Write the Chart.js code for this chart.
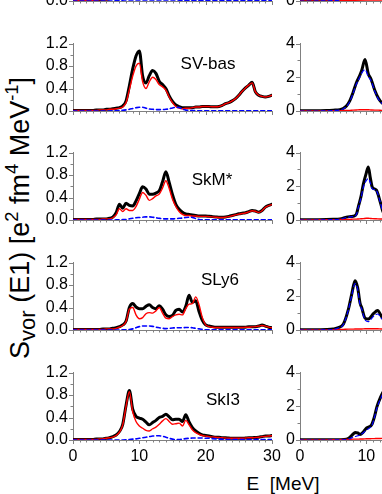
<!DOCTYPE html>
<html><head><meta charset="utf-8">
<script src="https://cdn.jsdelivr.net/npm/chart.js@4.4.1/dist/chart.umd.min.js"></script>
<style>
html,body{margin:0;padding:0;width:382px;height:494px;overflow:hidden;background:#fff;}
#wrap{position:relative;width:382px;height:494px;overflow:hidden;font-family:"Liberation Sans",Arial,sans-serif;color:#000;}
#wrap canvas{position:absolute;}
.lbl{position:absolute;font-size:17px;line-height:17px;transform:translate(-50%,-50%);white-space:nowrap;}
#ytitle{position:absolute;left:20px;top:218px;font-size:27px;line-height:27px;white-space:nowrap;transform:translate(-50%,-50%) rotate(-90deg);}
#ytitle sub{font-size:82%;vertical-align:-0.3em;line-height:0;}
#ytitle sup{font-size:68%;vertical-align:0.55em;line-height:0;}
#xtitle{position:absolute;left:283px;top:483px;font-size:19px;line-height:19px;white-space:pre;transform:translate(-50%,-50%);}
</style></head>
<body>
<div id="wrap">
  <div id="ytitle">S<sub>vor</sub> (E1) [e<sup>2</sup> fm<sup>4</sup> MeV<sup>-1</sup>]</div>
  <div id="xtitle">E  [MeV]</div>
</div>
<script>
// ---------------- data ----------------
const energies = [0,0.5,1,1.5,2,2.5,3,3.5,4,4.5,
  5,5.5,6,6.5,7,7.5,8,8.5,9,9.5,
  10,10.5,11,11.5,12,12.5,13,13.5,14,14.5,
  15,15.5,16,16.5,17,17.5,18,18.5,19,19.5,
  20,20.5,21,21.5,22,22.5,23,23.5,24,24.5,
  25,25.5,26,26.5,27,27.5,28,28.5,29,29.5,
  30];

const models = ['', 'SV-bas', 'SkM*', 'SLy6', 'SkI3'];

const leftXTicks = [0, 10, 20, 30];
const leftYTicks = [0, 0.4, 0.8, 1.2];
const leftYLabels = ['0.0', '0.4', '0.8', '1.2'];
const rightYTicks = [0, 2, 4];
const rightYLabels = ['0', '2', '4'];

// left column: total (black), red component, blue dashed component
const topTotal = [0.01,0.01,0.01,0.01,0.01,0.01,0.02,0.02,0.02,0.03,
  0.03,0.04,0.06,0.12,0.30,0.60,0.90,1.00,0.80,0.60,
  0.50,0.50,0.50,0.45,0.40,0.40,0.35,0.30,0.25,0.20,
  0.18,0.15,0.12,0.10,0.10,0.10,0.10,0.10,0.10,0.10,
  0.10,0.10,0.10,0.10,0.10,0.10,0.10,0.10,0.10,0.10,
  0.10,0.10,0.10,0.10,0.10,0.10,0.10,0.10,0.10,0.10,
  0.10];
const topRed = [0.01,0.01,0.01,0.01,0.01,0.01,0.01,0.01,0.02,0.02,
  0.02,0.03,0.05,0.10,0.25,0.50,0.75,0.85,0.70,0.50,
  0.42,0.42,0.42,0.38,0.34,0.34,0.30,0.26,0.22,0.18,
  0.16,0.13,0.10,0.09,0.09,0.09,0.09,0.09,0.09,0.09,
  0.09,0.09,0.09,0.09,0.09,0.09,0.09,0.09,0.09,0.09,
  0.09,0.09,0.09,0.09,0.09,0.09,0.09,0.09,0.09,0.09,
  0.09];
const topBlue = [0,0,0,0,0,0,0,0,0,0,
  0,0,0,0.005,0.01,0.015,0.02,0.02,0.02,0.02,
  0.02,0.02,0.02,0.02,0.02,0.02,0.02,0.02,0.02,0.02,
  0.02,0.02,0.015,0.01,0.01,0.01,0.01,0.01,0.01,0.01,
  0.005,0.005,0.005,0.005,0.005,0.005,0.005,0.005,0.005,0.005,
  0.005,0.005,0.005,0.005,0.005,0.005,0.005,0.005,0.005,0.005,
  0.005];

const svbasTotal = [0.01,0.01,0.01,0.01,0.01,0.01,0.01,0.02,0.02,0.02,
  0.03,0.03,0.04,0.05,0.06,0.09,0.18,0.45,0.75,0.98,
  1.07,0.62,0.50,0.63,0.72,0.67,0.53,0.47,0.40,0.27,
  0.17,0.11,0.08,0.06,0.06,0.06,0.06,0.07,0.07,0.08,
  0.08,0.08,0.075,0.075,0.08,0.10,0.13,0.15,0.18,0.22,
  0.28,0.35,0.41,0.46,0.51,0.34,0.28,0.26,0.25,0.26,
  0.28];
const svbasRed = [0.01,0.01,0.01,0.01,0.01,0.01,0.01,0.01,0.02,0.02,
  0.02,0.03,0.03,0.04,0.05,0.07,0.15,0.38,0.62,0.80,
  0.85,0.52,0.40,0.52,0.60,0.56,0.47,0.43,0.37,0.25,
  0.15,0.08,0.05,0.04,0.05,0.05,0.06,0.07,0.07,0.08,
  0.08,0.08,0.075,0.075,0.08,0.10,0.13,0.15,0.18,0.22,
  0.28,0.35,0.41,0.46,0.50,0.34,0.28,0.26,0.25,0.26,
  0.28];
const svbasBlue = [0,0,0,0,0,0,0,0,0,0,
  0,0,0.003,0.005,0.008,0.012,0.02,0.03,0.045,0.058,
  0.066,0.066,0.05,0.035,0.03,0.025,0.025,0.025,0.03,0.04,
  0.055,0.065,0.062,0.035,0.015,0.01,0.008,0.006,0.005,0.004,
  0.003,0.003,0.003,0.003,0.003,0.003,0.003,0.003,0.003,0.003,
  0.002,0.002,0.002,0.002,0.002,0.002,0.002,0.002,0.002,0.002,
  0.002];

const skmTotal = [0.01,0.01,0.01,0.01,0.01,0.01,0.01,0.02,0.02,0.02,
  0.02,0.03,0.05,0.13,0.28,0.21,0.30,0.26,0.25,0.34,
  0.47,0.59,0.55,0.46,0.46,0.48,0.52,0.68,0.86,0.67,
  0.45,0.28,0.19,0.14,0.11,0.10,0.09,0.08,0.07,0.07,
  0.07,0.065,0.06,0.055,0.05,0.05,0.055,0.065,0.08,0.095,
  0.11,0.12,0.13,0.15,0.17,0.16,0.14,0.17,0.23,0.26,
  0.28];
const skmRed = [0.01,0.01,0.01,0.01,0.01,0.01,0.01,0.01,0.01,0.02,
  0.02,0.02,0.04,0.09,0.20,0.15,0.20,0.17,0.17,0.24,
  0.37,0.49,0.44,0.35,0.38,0.43,0.46,0.57,0.70,0.56,
  0.37,0.24,0.15,0.10,0.08,0.08,0.07,0.07,0.065,0.065,
  0.065,0.06,0.055,0.05,0.045,0.045,0.05,0.06,0.075,0.09,
  0.105,0.115,0.125,0.145,0.165,0.155,0.135,0.165,0.225,0.255,
  0.275];
const skmBlue = [0,0,0,0,0,0,0,0,0,0,
  0,0,0,0.002,0.004,0.006,0.01,0.02,0.03,0.04,
  0.045,0.05,0.055,0.055,0.05,0.04,0.03,0.022,0.02,0.02,
  0.02,0.025,0.03,0.035,0.045,0.05,0.045,0.025,0.01,0.005,
  0.003,0.003,0.003,0.003,0.003,0.003,0.003,0.003,0.003,0.003,
  0.002,0.002,0.002,0.002,0.002,0.002,0.002,0.002,0.002,0.002,
  0.002];

const sly6Total = [0.01,0.01,0.01,0.01,0.01,0.01,0.01,0.01,0.01,0.02,
  0.02,0.02,0.03,0.04,0.06,0.09,0.16,0.40,0.47,0.41,
  0.38,0.38,0.42,0.45,0.40,0.38,0.43,0.37,0.27,0.24,
  0.26,0.35,0.37,0.32,0.42,0.62,0.49,0.52,0.33,0.17,
  0.09,0.07,0.06,0.05,0.05,0.05,0.05,0.05,0.05,0.05,
  0.05,0.05,0.05,0.06,0.06,0.06,0.07,0.09,0.07,0.05,
  0.04];
const sly6Red = [0.01,0.01,0.01,0.01,0.01,0.01,0.01,0.01,0.01,0.01,
  0.02,0.02,0.02,0.03,0.05,0.08,0.15,0.37,0.40,0.27,
  0.20,0.22,0.29,0.31,0.30,0.34,0.40,0.30,0.21,0.20,
  0.24,0.27,0.28,0.27,0.38,0.46,0.47,0.59,0.45,0.22,
  0.09,0.06,0.05,0.045,0.045,0.045,0.045,0.045,0.045,0.045,
  0.045,0.045,0.05,0.05,0.055,0.06,0.07,0.08,0.07,0.05,
  0.04];
const sly6Blue = [0,0,0,0,0,0,0,0,0,0,
  0,0,0,0,0,0.002,0.005,0.01,0.02,0.04,
  0.06,0.07,0.07,0.07,0.065,0.05,0.04,0.03,0.025,0.03,
  0.035,0.04,0.04,0.04,0.045,0.045,0.04,0.03,0.02,0.01,
  0.005,0.003,0.003,0.003,0.003,0.003,0.003,0.003,0.003,0.003,
  0.002,0.002,0.002,0.002,0.002,0.002,0.002,0.002,0.002,0.002,
  0.002];

const ski3Total = [0.01,0.01,0.01,0.01,0.01,0.01,0.01,0.02,0.02,0.02,
  0.03,0.04,0.06,0.09,0.15,0.28,0.62,0.88,0.55,0.42,
  0.39,0.37,0.32,0.27,0.31,0.35,0.40,0.42,0.46,0.41,
  0.36,0.37,0.37,0.33,0.45,0.32,0.22,0.16,0.12,0.09,
  0.08,0.07,0.06,0.05,0.05,0.04,0.04,0.035,0.03,0.03,
  0.03,0.03,0.035,0.04,0.04,0.045,0.05,0.06,0.07,0.07,
  0.08];
const ski3Red = [0.01,0.01,0.01,0.01,0.01,0.01,0.01,0.01,0.02,0.02,
  0.03,0.04,0.05,0.08,0.14,0.27,0.60,0.86,0.50,0.33,
  0.25,0.21,0.17,0.16,0.20,0.23,0.28,0.34,0.38,0.33,
  0.28,0.29,0.30,0.25,0.35,0.27,0.18,0.13,0.10,0.08,
  0.07,0.06,0.055,0.05,0.045,0.04,0.035,0.03,0.03,0.03,
  0.03,0.03,0.035,0.04,0.04,0.045,0.05,0.06,0.065,0.07,
  0.075];
const ski3Blue = [0,0,0,0,0,0,0,0,0,0,
  0,0,0,0,0,0,0.003,0.008,0.015,0.02,
  0.03,0.04,0.05,0.06,0.07,0.075,0.075,0.065,0.05,0.03,
  0.015,0.008,0.008,0.015,0.025,0.03,0.035,0.035,0.035,0.035,
  0.03,0.03,0.025,0.02,0.015,0.012,0.01,0.01,0.01,0.01,
  0.01,0.01,0.01,0.01,0.01,0.01,0.01,0.01,0.01,0.01,
  0.01];

// right column (read points, energies in MeV)
const rTopE     = [0,2,4,5,6,7,8,10,12,14];
const rTopTotal = [0.02,0.02,0.03,0.04,0.08,0.4,1.2,2.5,1.5,0.8];
const rTopBlue  = [0,0,0.01,0.02,0.06,0.35,1.1,2.3,1.4,0.7];
const rTopRed   = [0.01,0.01,0.01,0.02,0.02,0.03,0.04,0.05,0.05,0.05];

const rSvbasE     = [0,2,4,5,6,6.5,7,7.5,8,8.5,9,9.3,9.8,10.3,10.7,11.3,11.8,12.3,13,14];
const rSvbasTotal = [0.02,0.02,0.03,0.05,0.08,0.15,0.3,0.6,1.1,1.68,2.1,2.4,3.05,2.2,1.9,1.2,0.77,0.5,0.3,0.2];
const rSvbasBlue  = [0,0,0.01,0.03,0.06,0.12,0.27,0.55,1.05,1.6,2.0,2.25,2.45,2.05,1.8,1.15,0.72,0.47,0.28,0.18];
const rSvbasRed   = [0.01,0.01,0.01,0.02,0.02,0.03,0.03,0.04,0.05,0.06,0.07,0.07,0.07,0.07,0.06,0.05,0.05,0.04,0.04,0.04];

const rSkmE     = [0,2,4,5,6,6.5,7,7.5,8,8.5,8.8,9.2,9.55,10,10.3,10.6,10.9,11.5,12.1,12.5,13,14];
const rSkmTotal = [0.02,0.02,0.03,0.04,0.06,0.1,0.17,0.2,0.22,0.35,0.8,1.4,2.13,2.8,3.15,2.5,1.95,1.78,1.07,0.5,0.3,0.2];
const rSkmBlue  = [0,0,0.01,0.02,0.05,0.09,0.15,0.18,0.2,0.32,0.75,1.3,1.95,2.35,2.45,2.2,1.85,1.75,1.05,0.48,0.28,0.18];
const rSkmRed   = [0.01,0.01,0.02,0.02,0.03,0.03,0.04,0.04,0.05,0.05,0.06,0.07,0.08,0.1,0.1,0.09,0.08,0.07,0.06,0.06,0.05,0.05];

const rSly6E     = [0,2,4,5,5.8,6.55,7.3,7.8,8.3,8.7,9.05,9.3,9.8,10.3,11.1,11.7,12.3,13,14];
const rSly6Total = [0.02,0.02,0.03,0.06,0.14,0.36,1.24,2.13,2.93,2.5,1.6,1.33,0.71,0.65,0.98,1.16,0.8,0.5,0.3];
const rSly6Blue  = [0,0,0.01,0.04,0.12,0.33,1.2,2.05,2.75,2.4,1.5,1.25,0.6,0.5,0.82,0.95,0.68,0.42,0.25];
const rSly6Red   = [0.01,0.01,0.01,0.02,0.03,0.04,0.05,0.05,0.06,0.06,0.06,0.06,0.07,0.07,0.07,0.07,0.06,0.06,0.05];

const rSki3E     = [0,2,4,6,7,7.5,8,8.3,8.7,9.05,9.5,10.05,10.5,10.8,11.2,11.6,12.1,12.6,13.2,14];
const rSki3Total = [0.01,0.01,0.01,0.02,0.05,0.15,0.35,0.45,0.42,0.33,0.45,0.72,0.8,0.9,1.35,1.98,2.5,2.9,3.0,2.6];
const rSki3Blue  = [0,0,0,0.01,0.03,0.08,0.16,0.2,0.25,0.3,0.42,0.6,0.72,0.82,1.3,1.9,2.4,2.8,2.9,2.5];
const rSki3Red   = [0,0,0.01,0.02,0.03,0.04,0.05,0.05,0.05,0.06,0.06,0.07,0.07,0.08,0.08,0.09,0.09,0.1,0.1,0.1];

// ---------------- drawing ----------------
const AXIS = '#808080';
Chart.defaults.font.family = '"Liberation Sans", Arial, sans-serif';
Chart.defaults.color = '#000';

function pts(xs, ys) { return xs.map((x, i) => ({ x: x, y: ys[i] })); }

const tickMarks = {
  id: 'tickMarks',
  afterDraw(chart, args, o) {
    const ctx = chart.ctx, x = chart.scales.x, y = chart.scales.y;
    ctx.save();
    ctx.strokeStyle = AXIS; ctx.lineWidth = 1;
    ctx.beginPath();
    const nx = Math.round((x.max - x.min) / o.xMinor);
    for (let i = 0; i <= nx; i++) {
      const p = Math.round(x.getPixelForValue(x.min + i * o.xMinor)) + 0.5;
      const len = (i % o.xEvery === 0) ? 4 : 2.5;
      ctx.moveTo(p, y.bottom); ctx.lineTo(p, y.bottom + len);
    }
    const ny = Math.round((y.max - y.min) / o.yMinor);
    for (let i = 0; i <= ny; i++) {
      const p = Math.round(y.getPixelForValue(y.min + i * o.yMinor)) + 0.5;
      const len = (i % o.yEvery === 0) ? 4 : 2.5;
      ctx.moveTo(x.left, p); ctx.lineTo(x.left - len, p);
    }
    ctx.stroke();
    ctx.restore();
  }
};

const wrap = document.getElementById('wrap');

function panel(cfg) {
  const c = document.createElement('canvas');
  c.width = cfg.width; c.height = 112;
  c.style.left = cfg.left + 'px'; c.style.top = cfg.top + 'px';
  wrap.appendChild(c);
  new Chart(c, {
    type: 'line',
    data: { datasets: [
      { data: cfg.blue, borderColor: '#0000ff', borderWidth: cfg.blueW, borderDash: [4, 3] },
      { data: cfg.red, borderColor: '#ff0000', borderWidth: 1.4 },
      { data: cfg.black, borderColor: '#000000', borderWidth: 3 }
    ]},
    options: {
      responsive: false, animation: false, devicePixelRatio: 1,
      layout: { padding: { left: 0, top: 8, right: cfg.padRight, bottom: 0 } },
      plugins: { legend: { display: false }, tooltip: { enabled: false },
        tickMarks: { xMinor: 1, xEvery: 10, yMinor: cfg.yMinor, yEvery: cfg.yEvery } },
      elements: { point: { radius: 0 }, line: { cubicInterpolationMode: 'monotone', fill: false, borderCapStyle: 'round', borderJoinStyle: 'round' } },
      scales: {
        x: { type: 'linear', min: 0, max: 30,
          grid: { display: false, drawTicks: false },
          border: { display: true, color: AXIS, width: 1 },
          afterBuildTicks: s => { s.ticks = leftXTicks.map(v => ({ value: v })); },
          afterFit: s => { s.height = 30; },
          ticks: { display: cfg.showX, padding: 7, autoSkip: false, maxRotation: 0,
            font: { size: 16 }, color: '#000', callback: v => String(v) } },
        y: { type: 'linear', min: 0, max: cfg.ymax,
          grid: { display: false, drawTicks: false },
          border: { display: true, color: AXIS, width: 1 },
          afterBuildTicks: s => { s.ticks = cfg.yTicks.map(v => ({ value: v })); },
          afterFit: s => { s.width = cfg.yW; },
          ticks: { padding: 5, autoSkip: false, font: { size: 16 }, color: '#000',
            callback: (v, i) => cfg.yLabels[i] } }
      }
    },
    plugins: [tickMarks]
  });
}

const rowBottoms = [1, 111, 220, 330, 440];
const leftSets = [
  [topTotal, topRed, topBlue],
  [svbasTotal, svbasRed, svbasBlue],
  [skmTotal, skmRed, skmBlue],
  [sly6Total, sly6Red, sly6Blue],
  [ski3Total, ski3Red, ski3Blue]
];
const rightSets = [
  [rTopE, rTopTotal, rTopRed, rTopBlue],
  [rSvbasE, rSvbasTotal, rSvbasRed, rSvbasBlue],
  [rSkmE, rSkmTotal, rSkmRed, rSkmBlue],
  [rSly6E, rSly6Total, rSly6Red, rSly6Blue],
  [rSki3E, rSki3Total, rSki3Red, rSki3Blue]
];

rowBottoms.forEach((b, r) => {
  const top = b - 82;
  const L = leftSets[r];
  panel({ left: 0, top: top, width: 290, padRight: 18, yW: 73, ymax: 1.2,
    yTicks: leftYTicks, yLabels: leftYLabels, yMinor: 0.2, yEvery: 2, blueW: 1.6,
    showX: r === rowBottoms.length - 1,
    black: pts(energies, L[0]), red: pts(energies, L[1]), blue: pts(energies, L[2]) });
  const R = rightSets[r];
  panel({ left: 270, top: top, width: 250, padRight: 21, yW: 30, ymax: 4,
    yTicks: rightYTicks, yLabels: rightYLabels, yMinor: 1, yEvery: 2, blueW: 1.2,
    showX: r === rowBottoms.length - 1,
    black: pts(R[0], R[1]), red: pts(R[0], R[2]), blue: pts(R[0], R[3]) });
});

const labelPos = [null, [208, 63], [212, 179], [220, 279], [223, 399]];
models.forEach((m, i) => {
  if (!m) return;
  const d = document.createElement('div');
  d.className = 'lbl';
  d.textContent = m;
  d.style.left = labelPos[i][0] + 'px';
  d.style.top = labelPos[i][1] + 'px';
  wrap.appendChild(d);
});
</script>
</body></html>
